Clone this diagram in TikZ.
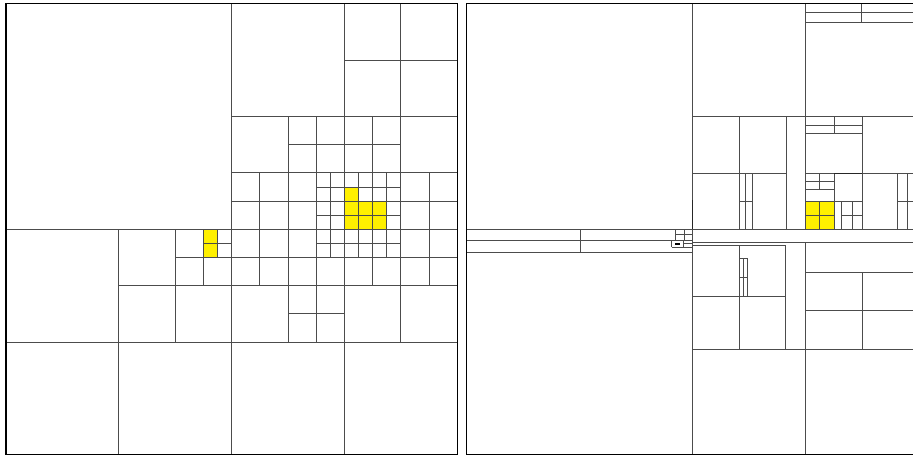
\documentclass[tikz,border=0pt]{standalone}
\definecolor{hlyellow}{RGB}{255,240,0}
\begin{document}
\begin{tikzpicture}[x=1pt,y=-1pt,
  ln/.style={draw=black!70, line width=0.7pt},
  dk/.style={draw=black!85, line width=1.4pt},
  bd/.style={draw=black, line width=1.3pt},
  hl/.style={fill=hlyellow}]
\useasboundingbox (0,0) rectangle (913,456);
\fill[white] (0,0) rectangle (913,456);

% ---------------- left panel (unit grid 0..32) ----------------
\begin{scope}[shift={(6pt,-3.6pt)}, x=14.1pt, y=-14.1pt]
  \fill[hl] (24,13) rectangle (25,14);
  \fill[hl] (24,14) rectangle (27,16);
  \fill[hl] (14,16) rectangle (15,18);
  \foreach \x/\a/\b in {8/16/32, 12/16/24, 14/16/20, 15/16/18, 16/0/32,
      18/12/20, 20/8/24, 22/8/24, 23/12/18, 24/0/32, 25/12/18, 26/8/20,
      27/12/18, 28/0/24, 30/12/20}
    \draw[ln] (\x,\a) -- (\x,\b);
  \foreach \y/\a/\b in {4/24/32, 8/16/32, 10/20/28, 12/16/32, 13/22/28,
      14/16/32, 15/22/28, 16/0/32, 17/14/16, 17/22/28, 18/12/32, 20/8/32,
      22/20/24, 24/0/32}
    \draw[ln] (\a,\y) -- (\b,\y);
  \draw[bd] (0,0) rectangle (32,32);
\end{scope}

% ---------------- right panel (pixel coordinates) ----------------
\fill[hl] (805.7,201) rectangle (834,229.3);
% vertical lines
\foreach \x/\a/\b in {692.7/4/455, 805.7/4/229.3, 805.7/242.3/455,
    861.7/4/22, 739.7/116.3/229.3, 786.7/116.3/229.3,
    745.7/173/229.3, 752/173/229.3, 834/116.3/133.7, 862.3/116.3/229.3,
    819.7/173/189.3, 834/173.5/229.3, 819.7/201/229.3,
    841.3/201/229.3, 852/201/229.3, 897.3/173/229.3, 907.7/173/229.3,
    580.3/229.3/252, 675.5/229.3/240.3, 684/229.3/240.3,
    671.7/240.5/247, 683/240.5/247,
    785.7/245.3/349, 739.3/245.3/349, 743.3/258.7/296.7, 747.7/258.7/296.7,
    862.3/272.3/349}
  \draw[ln] (\x,\a) -- (\x,\b);
% horizontal lines
\foreach \y/\a/\b in {229.3/466.7/913, 116.3/692.7/913,
    12.7/805.7/913, 22/805.7/913,
    173/692.7/786.7, 201/739.7/752,
    125.3/805.7/862.3, 133.7/805.7/862.3,
    173/805.7/834, 181/805.7/834, 189.3/805.7/834,
    201/805.7/862.3, 215.3/805.7/834, 215.3/841.3/862.3,
    173/862.3/913, 201/897.3/913,
    240.3/466.7/692.7, 252/466.7/692.7, 234.5/675.5/692.7,
    240.5/671.7/692.7, 247/671.7/692.7, 243.5/683/692.7,
    242.5/692.7/913, 245.3/692.7/785.7, 296.7/692.7/785.7,
    258.7/739.3/747.7, 277.7/739.3/747.7,
    349/692.7/913, 272.3/805.7/913, 310.3/805.7/913}
  \draw[ln] (\a,\y) -- (\b,\y);
% darker overlapping strokes
\draw[dk] (692.7,200) -- (692.7,229.3);
\draw[dk] (834,173.5) -- (862.3,173.5);
\fill[black] (675,242.5) rectangle (680,244.5);
% border
\draw[bd] (913,3.6) -- (466.7,3.6) -- (466.7,454.8) -- (913,454.8);
\end{tikzpicture}
\end{document}
